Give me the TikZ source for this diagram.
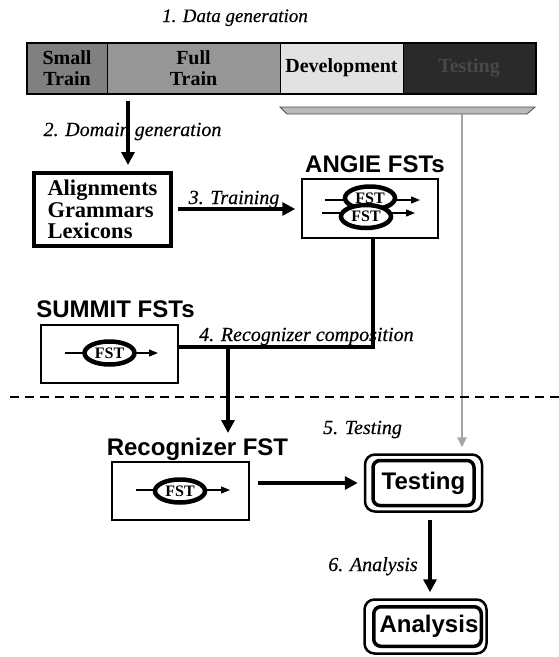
\documentclass[tikz,border=0pt]{standalone}
\usepackage{fontspec}
\setmainfont{Liberation Serif}[ItalicFeatures={FakeBold=0.4}]
\newfontfamily\hel{Liberation Sans}
\usetikzlibrary{arrows.meta,shapes.geometric}
\definecolor{smallc}{RGB}{128,128,128}
\definecolor{fullc}{RGB}{150,150,150}
\definecolor{devc}{RGB}{226,226,226}
\definecolor{testc}{RGB}{42,42,42}
\definecolor{testtxt}{RGB}{72,72,72}
\definecolor{brkc}{RGB}{185,185,185}
\definecolor{grayline}{RGB}{165,165,165}
\begin{document}
\begin{tikzpicture}[x=1pt,y=-1pt,
  seg/.style={draw=black, line width=1pt, inner sep=0pt, minimum height=50pt, align=center,
    font=\bfseries\fontsize{20}{21}\selectfont},
  steplbl/.style={font=\itshape\fontsize{20}{22}\selectfont, inner sep=0pt, anchor=base},
  heading/.style={font=\hel\bfseries\fontsize{24}{26}\selectfont, inner sep=0pt, anchor=base},
  fstbox/.style={draw, line width=1.5pt, inner sep=0pt},
  fstell/.style={ellipse, draw, line width=4.5pt, fill=white, inner sep=0pt,
    minimum width=50pt, minimum height=23pt, font=\bfseries\fontsize{16}{16}\selectfont},
  conn/.style={line width=4pt},
  arr/.style={line width=4pt, -{Triangle[length=13pt,width=13pt]}},
  thinarr/.style={line width=1.3pt, -{Triangle[length=9pt,width=7pt]}},
  grayarr/.style={draw=grayline, line width=2.5pt, -{Triangle[length=10pt,width=9pt]}},
  innerbox/.style={draw, line width=3.5pt, rounded corners=7pt, inner sep=0pt,
    font=\hel\bfseries\fontsize{24}{26}\selectfont},
  outerbox/.style={draw, line width=2.5pt, rounded corners=10pt, inner sep=0pt},
]
\useasboundingbox (0,0) rectangle (559,657);

% 1. Data generation
\node[font=\itshape\fontsize{19}{21}\selectfont, inner sep=0pt, anchor=base] (t1) at (235,22) {1. Data generation};
\node[seg, fill=smallc, minimum width=80pt] (small) at (67,68) {Small\\Train};
\node[seg, fill=fullc, minimum width=173pt] (full) at (193.5,68) {Full\\Train};
\node[seg, fill=devc, minimum width=123pt] (dev) at (341.5,68) {Development};
\node[seg, fill=testc, minimum width=132pt, text=testtxt] (testset) at (469,68) {Testing};
\draw[line width=2pt] (small.north west) rectangle (testset.south east);

% bracket under development + testing
\draw[fill=brkc, draw=gray!60!black, line width=0.8pt] (280,107) -- (535,107) -- (527,114) -- (287,114) -- cycle;
\coordinate (brk) at (462,114);
\node[outerbox, minimum width=117pt, minimum height=57pt] (testo) at (423.5,483) {};
\node[innerbox, minimum width=101pt, minimum height=45pt] (testing) at (423.5,483) {Testing};
\draw[grayarr, shorten >=6pt] (brk) -- (testo.north -| brk);

% 2. Domain generation
\node[steplbl] (t2) at (132.5,136) {2. Domain generation};
\node[draw, line width=4pt, minimum width=137pt, minimum height=73pt, inner xsep=0pt,
  align=left, text width=110pt, font=\bfseries\fontsize{22.5}{21.5}\selectfont]
  (align) at (102.5,209.5) {Alignments\\Grammars\\Lexicons};
\coordinate (a1) at (128,101);
\draw[arr, shorten >=6pt] (a1) -- (align.north -| a1);

% ANGIE FSTs
\node[heading] (angiet) at (375,172) {ANGIE FSTs};
\node[fstbox, minimum width=136pt, minimum height=59pt] (angie) at (370,208.5) {};
\coordinate (at1) at (325,200);
\coordinate (at2) at (420,200);
\coordinate (ab1) at (322,213);
\coordinate (ab2) at (415,213);
\draw[thinarr] (at1) -- (at2);
\draw[thinarr] (ab1) -- (ab2);
\node[fstell] (fst1) at (370,198) {FST};
\node[fstell] (fst2) at (366,216.5) {FST};

% 3. Training
\node[steplbl] (t3) at (234,204) {3. Training};
\draw[arr, shorten <=5pt, shorten >=6pt] (align.east |- 0,209) -- (angie.west |- 0,209);

% SUMMIT FSTs
\node[heading] (summitt) at (115.5,317) {SUMMIT FSTs};
\node[fstbox, minimum width=137pt, minimum height=58pt] (summit) at (109.5,354) {};
\coordinate (s1) at (65,353);
\coordinate (s2) at (158,353);
\draw[thinarr] (s1) -- (s2);
\node[fstell] (fst3) at (109.5,353) {FST};

% 4. Recognizer composition
\node[steplbl, anchor=base west] (t4) at (199,341) {4. Recognizer composition};
\coordinate (j1) at (373,347);
\coordinate (j2) at (228,347);
\draw[conn] (angie.south -| j1) -- (j1) -- (summit.east |- j1);

% dashed separator
\coordinate (dl) at (10,397);
\coordinate (dr) at (559,397);
\draw[line width=2pt, dash pattern=on 9pt off 6pt] (dl) -- (dr);

% Recognizer FST
\node[heading] (rect) at (197.5,455) {Recognizer FST};
\draw[arr] (j2) -- (j2 |- 0,433);
\node[fstbox, minimum width=137pt, minimum height=58pt] (rec) at (180.5,491) {};
\coordinate (r1) at (136,490);
\coordinate (r2) at (230,490);
\draw[thinarr] (r1) -- (r2);
\node[fstell] (fst4) at (180,491) {FST};

% 5. Testing
\node[steplbl] (t5) at (362.5,434) {5. Testing};
\draw[arr, shorten <=8pt, shorten >=6pt] (rec.east |- testo.west) -- (testo.west);

% 6. Analysis
\node[outerbox, minimum width=122pt, minimum height=54pt] (anao) at (425.5,626.5) {};
\node[innerbox, minimum width=107.5pt, minimum height=39.5pt] (analysis) at (427.5,626.5) {\hspace*{3pt}Analysis};
\coordinate (an1) at (430,0);
\draw[arr, shorten <=7pt, shorten >=6pt] (testo.south -| an1) -- (anao.north -| an1);
\node[steplbl] (t6) at (373,571) {6. Analysis};
\end{tikzpicture}
\end{document}
